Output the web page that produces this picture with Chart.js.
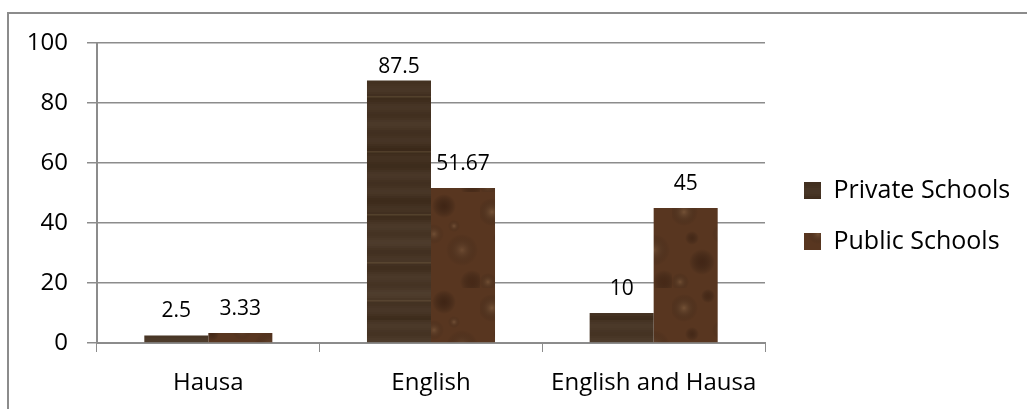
<!DOCTYPE html>
<html>
<head>
<meta charset="utf-8">
<script src="https://cdn.jsdelivr.net/npm/chart.js@4.4.1/dist/chart.umd.min.js"></script>
<style>
  html, body { margin: 0; padding: 0; background: #fff; }
  body { width: 1027px; height: 409px; position: relative; overflow: hidden; }
  #frame { position: absolute; left: 7px; top: 12px; width: 1100px; height: 500px;
           border-left: 2px solid #8c8c8c; border-top: 2px solid #8c8c8c; }
  #wrap { position: absolute; left: 0; top: 0; width: 1027px; height: 409px; }
</style>
</head>
<body>
<div id="frame"></div>
<div id="wrap"><canvas id="chart"></canvas></div>
<script>
  "use strict";

  // ---- data ---------------------------------------------------------
  const categories = ['Hausa', 'English', 'English and Hausa'];
  const privateSchools = [2.5, 87.5, 10];
  const publicSchools = [3.33, 51.67, 45];
  const yTicks = [0, 20, 40, 60, 80, 100];

  const FONT = '"Open Sans", "Noto Sans", sans-serif';
  const GRID = '#8c8c8c';

  // ---- textures -----------------------------------------------------
  // Dark wood grain for private, mottled brown marble for public.
  function woodPattern() {
    const c = document.createElement('canvas');
    c.width = 64; c.height = 320;
    const g = c.getContext('2d');
    g.fillStyle = '#42301f';
    g.fillRect(0, 0, c.width, c.height);
    for (let y = 0; y < c.height; y += 2) {
      const s = Math.sin(y * 0.37) + Math.sin(y * 0.113) * 0.8 + Math.sin(y * 0.029) * 0.6;
      const l = Math.round(s * 8);
      g.fillStyle = 'rgba(' + (72 + l) + ',' + (54 + l) + ',' + (38 + l) + ',0.55)';
      g.fillRect(0, y, c.width, 2);
    }
    g.fillStyle = 'rgba(115,95,68,0.4)';
    [38, 96, 151, 214, 262, 300].forEach(y => g.fillRect(0, y, c.width, 1.5));
    return g.createPattern(c, 'repeat');
  }

  function marblePattern() {
    const c = document.createElement('canvas');
    c.width = 96; c.height = 96;
    const g = c.getContext('2d');
    g.fillStyle = '#583620';
    g.fillRect(0, 0, c.width, c.height);
    const spots = [[12, 20, 14, 'rgba(150,115,80,0.45)'], [60, 14, 12, 'rgba(40,20,10,0.5)'],
                   [78, 58, 16, 'rgba(140,105,75,0.4)'], [30, 70, 13, 'rgba(45,22,12,0.5)'],
                   [50, 42, 10, 'rgba(160,125,90,0.35)'], [88, 90, 12, 'rgba(50,25,12,0.45)'],
                   [8, 90, 9, 'rgba(150,115,80,0.4)'], [36, 8, 7, 'rgba(50,25,12,0.45)'],
                   [70, 34, 6, 'rgba(165,130,95,0.35)'], [20, 46, 7, 'rgba(40,20,10,0.4)']];
    spots.forEach(([x, y, r, col]) => {
      const rg = g.createRadialGradient(x, y, 0, x, y, r);
      rg.addColorStop(0, col);
      rg.addColorStop(1, 'rgba(0,0,0,0)');
      g.fillStyle = rg;
      g.fillRect(0, 0, c.width, c.height);
    });
    return g.createPattern(c, 'repeat');
  }

  // ---- plugins ------------------------------------------------------
  // Value labels above each bar, kept inside the top of the plot.
  const valueLabels = {
    id: 'valueLabels',
    afterDatasetsDraw(chart) {
      const ctx = chart.ctx;
      const minY = chart.chartArea.top + 24;
      ctx.save();
      ctx.font = '21px ' + FONT;
      ctx.fillStyle = '#000';
      ctx.textAlign = 'center';
      ctx.textBaseline = 'middle';
      chart.data.datasets.forEach((ds, i) => {
        chart.getDatasetMeta(i).data.forEach((bar, j) => {
          ctx.fillText(String(ds.data[j]), bar.x, Math.max(bar.y - 24, minY));
        });
      });
      ctx.restore();
    },
  };

  // Pin legend width so the plot area ends where the reference does,
  // then nudge the legend items into place.
  const legendPlacement = {
    id: 'legendPlacement',
    beforeUpdate(chart) {
      const lg = chart.legend;
      if (lg && !lg._pinned) {
        const fit = lg.fit;
        lg.fit = function () { fit.call(this); this.width = 262; };
        lg._pinned = true;
      }
    },
    afterLayout(chart) {
      const lg = chart.legend;
      if (lg) { lg.left += 13; lg.right += 13; lg.top -= 10; lg.bottom -= 10; }
    },
  };

  new Chart(document.getElementById('chart'), {
    type: 'bar',
    data: {
      labels: categories,
      datasets: [
        { label: 'Private Schools', data: privateSchools, backgroundColor: woodPattern(),
          categoryPercentage: 0.575, barPercentage: 1.0 },
        { label: 'Public Schools', data: publicSchools, backgroundColor: marblePattern(),
          categoryPercentage: 0.575, barPercentage: 1.0 },
      ],
    },
    options: {
      responsive: true,
      maintainAspectRatio: false,
      animation: false,
      layout: { padding: { top: 43, left: 0, right: 0, bottom: 0 } },
      plugins: {
        legend: {
          position: 'right',
          labels: { font: { family: FONT, size: 25 }, color: '#000', boxWidth: 17, boxHeight: 17, padding: 26 },
        },
        tooltip: { enabled: false },
      },
      scales: {
        x: {
          grid: { drawOnChartArea: false, drawTicks: true, tickLength: 9, color: GRID, offset: true },
          border: { color: GRID, width: 2 },
          ticks: { font: { family: FONT, size: 24 }, color: '#000', padding: 17, maxRotation: 0 },
          afterFit(scale) { scale.height = 66; },
        },
        y: {
          min: 0, max: 100,
          afterBuildTicks(scale) { scale.ticks = yTicks.map(v => ({ value: v })); },
          grid: { color: GRID, lineWidth: 1.5, tickLength: 10 },
          border: { color: GRID, width: 2 },
          ticks: { font: { family: FONT, size: 24 }, color: '#000', padding: 19 },
          afterFit(scale) { scale.width = 97; },
        },
      },
    },
    plugins: [valueLabels, legendPlacement],
  });
</script>
</body>
</html>
